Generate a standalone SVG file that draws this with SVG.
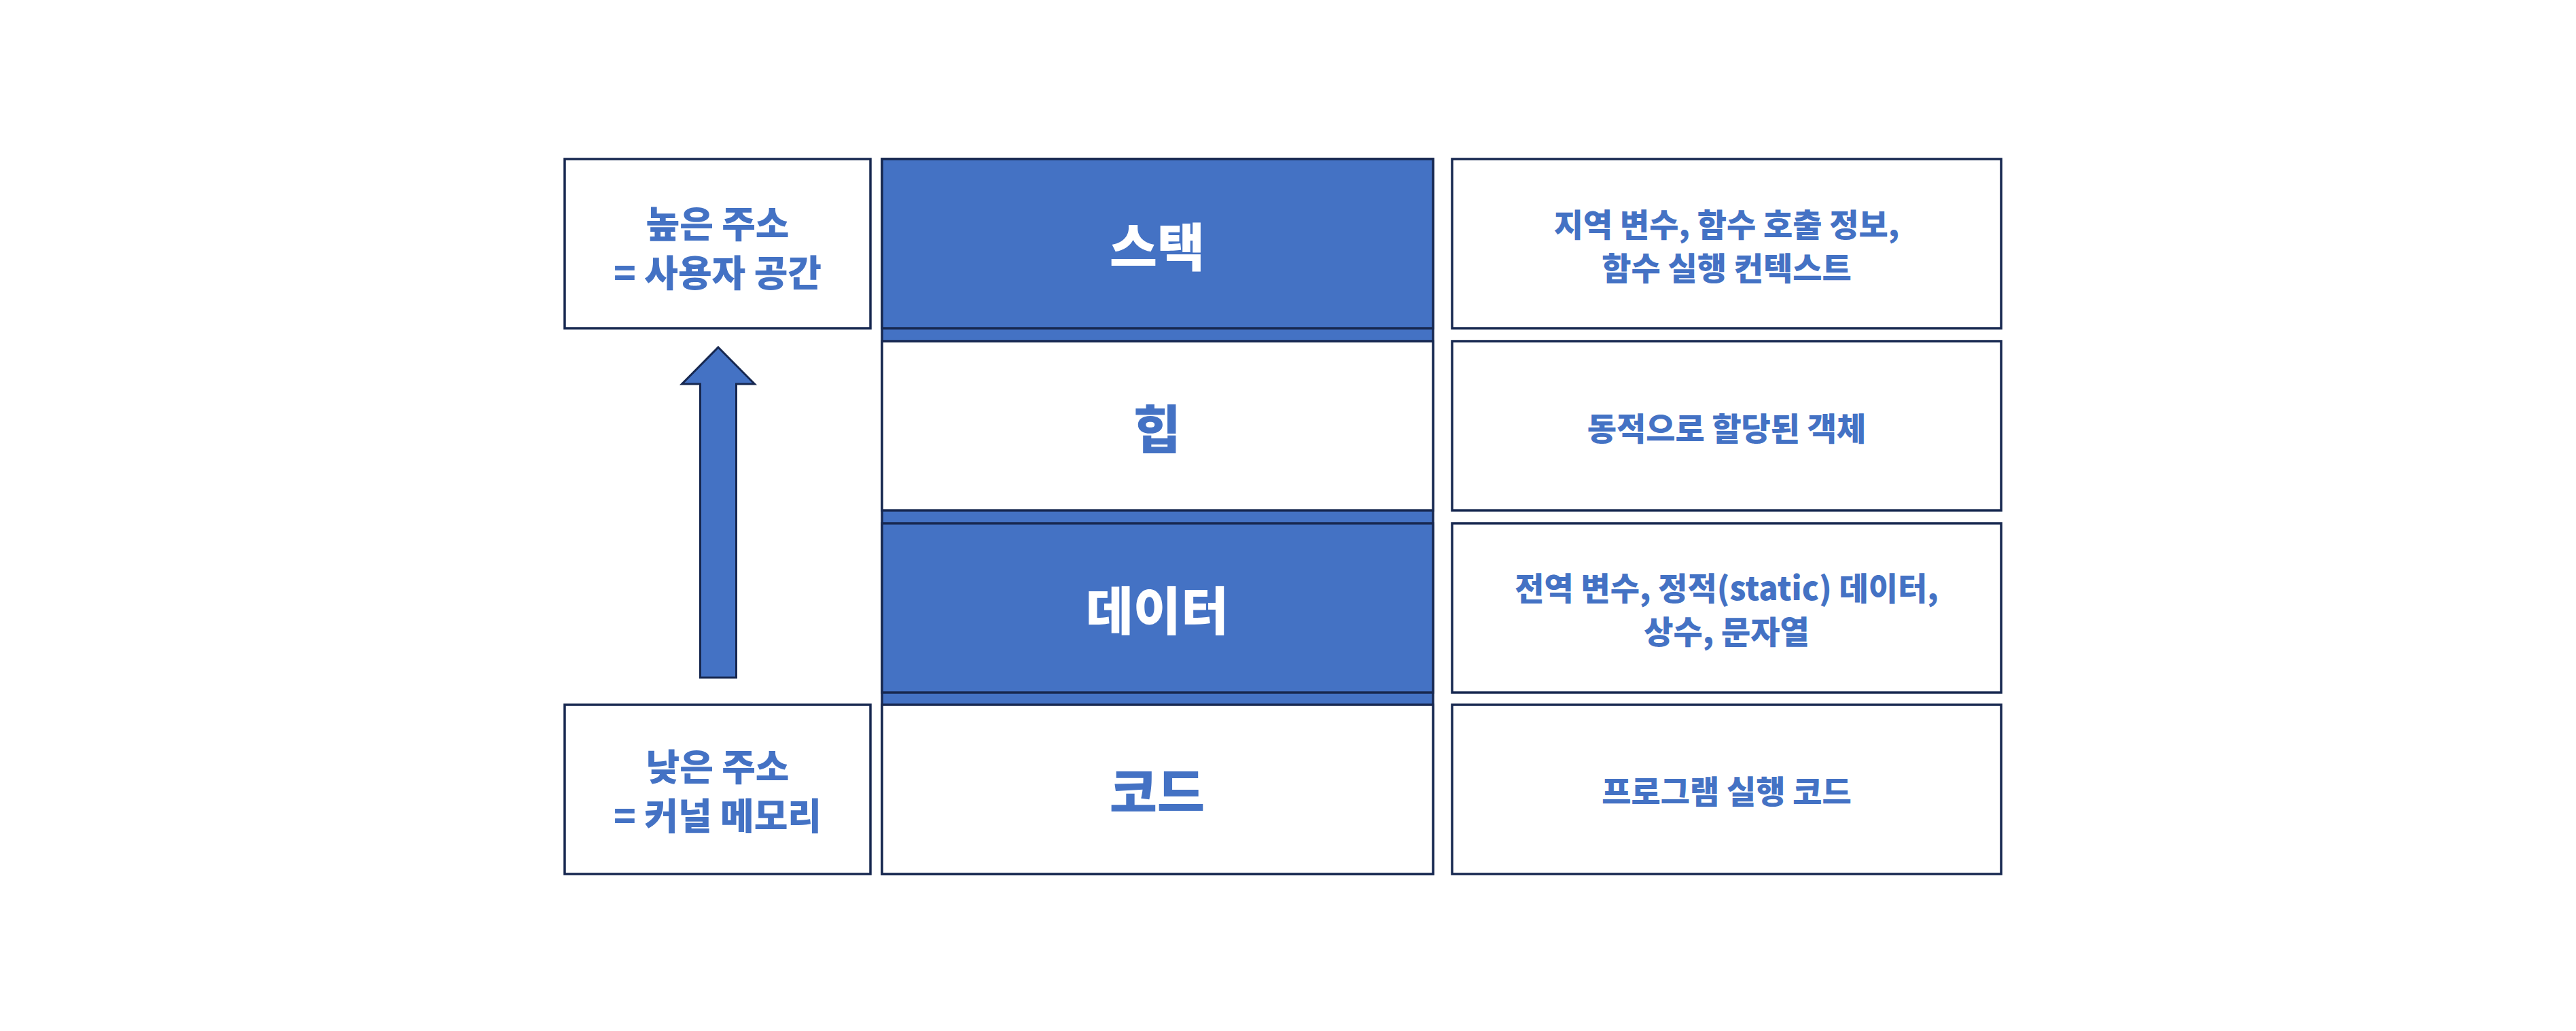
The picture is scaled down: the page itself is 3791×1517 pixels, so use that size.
<svg xmlns="http://www.w3.org/2000/svg" width="3791" height="1517" viewBox="0 0 3791 1517">
<style>
.box{fill:#FFFFFF;stroke:#172850;stroke-width:3.5}
.blue{fill:#4472C4;stroke:#172850;stroke-width:3.5}
text{font-family:"Noto Sans CJK KR","Noto Sans",sans-serif;font-weight:900;text-anchor:middle;dominant-baseline:central}
.big{font-size:76px}
.mid{font-size:54px}
.sm{font-size:47px}
.tb{fill:#4472C4}
.tw{fill:#FFFFFF}
</style>
<rect width="3791" height="1517" fill="#FFFFFF"/>
<g id="column-band">
<rect class="blue" x="1298" y="234" width="811" height="1052"/>
</g>
<g id="stack">
<rect class="blue" x="1298" y="234" width="811" height="249"/>
<text class="big tw" x="1703" y="359">스택</text>
</g>
<g id="heap">
<rect class="box" x="1298" y="502" width="811" height="249"/>
<text class="big tb" x="1703" y="627">힙</text>
</g>
<g id="data">
<rect class="blue" x="1298" y="770" width="811" height="249"/>
<text class="big tw" x="1703" y="894">데이터</text>
</g>
<g id="code">
<rect class="box" x="1298" y="1037" width="811" height="249"/>
<text class="big tb" x="1703" y="1161">코드</text>
</g>
<g id="high-address">
<rect class="box" x="831" y="234" width="450" height="249"/>
<text class="mid tb" x="1056" y="326">높은 주소</text>
<text class="mid tb" x="1056" y="398">= 사용자 공간</text>
</g>
<g id="low-address">
<rect class="box" x="831" y="1037" width="450" height="249"/>
<text class="mid tb" x="1056" y="1125">낮은 주소</text>
<text class="mid tb" x="1056" y="1197">= 커널 메모리</text>
</g>
<g id="stack-desc">
<rect class="box" x="2137" y="234" width="808" height="249"/>
<text class="sm tb" x="2541" y="327">지역 변수, 함수 호출 정보,</text>
<text class="sm tb" x="2541" y="391">함수 실행 컨텍스트</text>
</g>
<g id="heap-desc">
<rect class="box" x="2137" y="502" width="808" height="249"/>
<text class="sm tb" x="2541" y="627">동적으로 할당된 객체</text>
</g>
<g id="data-desc">
<rect class="box" x="2137" y="770" width="808" height="249"/>
<text class="sm tb" x="2541" y="862">전역 변수, 정적(static) 데이터,</text>
<text class="sm tb" x="2541" y="926">상수, 문자열</text>
</g>
<g id="code-desc">
<rect class="box" x="2137" y="1037" width="808" height="249"/>
<text class="sm tb" x="2541" y="1161">프로그램 실행 코드</text>
</g>
<g id="connectors">
<polygon points="1057,511 1110.5,565 1083.5,565 1083.5,997 1030.5,997 1030.5,565 1003.5,565" fill="#4472C4" stroke="#172850" stroke-width="3"/>
</g>
</svg>
